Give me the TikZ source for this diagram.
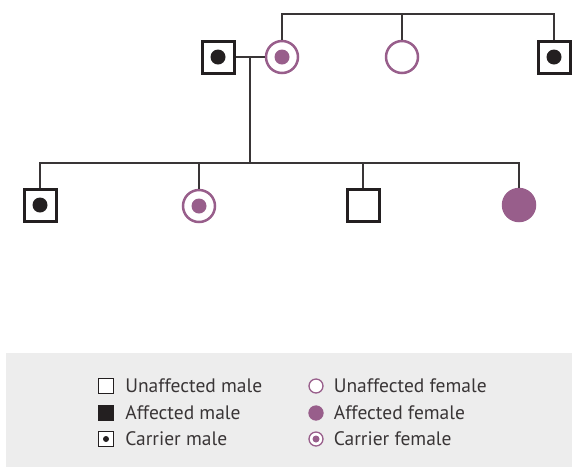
\documentclass[tikz,border=0pt]{standalone}
\usepackage{fontspec}
\setmainfont{PT Sans}
\usetikzlibrary{positioning}
\definecolor{plum}{HTML}{985E8B}
\definecolor{ink}{HTML}{231F20}
\definecolor{panel}{HTML}{EDEDED}

\begin{document}
\begin{tikzpicture}[x=1pt, y=-1pt, node distance=10pt, male/.style={draw=ink, line width=3pt, fill=white, minimum size=32pt, inner sep=0pt}, female/.style={circle, draw=plum, line width=2.5pt, fill=white, minimum size=32pt, inner sep=0pt}, cmale/.style={male, path picture={\fill[ink] (path picture bounding box.center) circle (7.5pt);}}, cfemale/.style={female, path picture={\fill[plum] (path picture bounding box.center) circle (7.5pt);}}, afemale/.style={female, fill=plum}, keym/.style={draw=ink, line width=1.3pt, fill=white, minimum size=15pt, inner sep=0pt}, keyf/.style={circle, draw=plum, line width=1.3pt, fill=white, minimum size=14pt, inner sep=0pt}, key/.style={inner sep=0pt, font=\fontsize{19.5}{22}\selectfont, text=ink!90}, link/.style={draw=ink!90, line width=1.4pt}]
\useasboundingbox (0,0) rectangle (572,467);
\fill[panel] (6,353) rectangle (572,467);
% generations
\node[cmale] (m1) at (218,57) {};
\node[cfemale] (f1) at (282,57) {};
\node[female] (f2) at (402,57) {};
\node[cmale] (m2) at (554,57) {};
\node[cmale] (c1) at (40,205) {};
\node[cfemale] (c2) at (199,206) {};
\node[male] (c3) at (363,205) {};
\node[afemale] (c4) at (519,205) {};
\coordinate (sibs) at (402,14);
\coordinate (mate) at (250,57);
\coordinate (kids) at (250,163);
\draw[link] (f1.north) |- (sibs) -| (m2.north);
\draw[link] (sibs) -- (f2.north);
\draw[link] (m1.east) -- (f1.west);
\draw[link] (mate) -- (kids);
\draw[link] (c1.north) |- (kids) -| (c4.north);
\foreach \n in {c2,c3}{\draw[link] (\n.north) -- (\n.north |- kids);}
% key
\node[keym] (k1) at (106,386) {};
\node[keym, fill=ink] (k2) at (106,413) {};
\node[keym, path picture={\fill[ink] (path picture bounding box.center) circle (3pt);}] (k3) at (106,439) {};
\node[keyf] (k4) at (316,386) {};
\node[keyf, fill=plum] (k5) at (316,413) {};
\node[keyf, path picture={\fill[plum] (path picture bounding box.center) circle (3.5pt);}] (k6) at (316,439) {};
\node[key, right=11pt of k1] (t1) {Unaffected male};
\node[key, right=11pt of k2] (t2) {Affected male};
\node[key, right=11pt of k3] (t3) {Carrier male};
\node[key, right=10pt of k4] (t4) {Unaffected female};
\node[key, right=10pt of k5] (t5) {Affected female};
\node[key, right=10pt of k6] (t6) {Carrier female};
\end{tikzpicture}
\end{document}
